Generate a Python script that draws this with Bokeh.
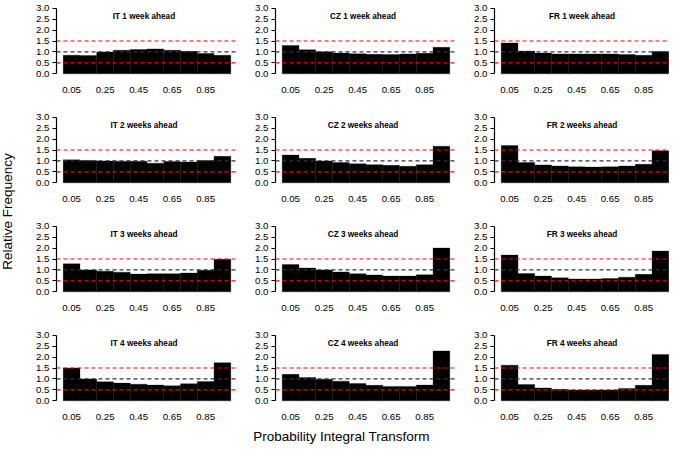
import math
from bokeh.plotting import figure
from bokeh.layouts import row, column
from bokeh.models import Span, Label, FixedTicker, Range1d, PrintfTickFormatter
from bokeh.embed import file_html
from bokeh.resources import INLINE
from bokeh.core.properties import value

# ---- data ----
bin_left = [0.0, 0.1, 0.2, 0.3, 0.4, 0.5, 0.6, 0.7, 0.8, 0.9]
bin_right = [0.1, 0.2, 0.3, 0.4, 0.5, 0.6, 0.7, 0.8, 0.9, 1.0]
x_ticks = [0.05, 0.25, 0.45, 0.65, 0.85]
y_ticks = [0.0, 0.5, 1.0, 1.5, 2.0, 2.5, 3.0]
countries = ["IT", "CZ", "FR"]
horizons = ["1 week ahead", "2 weeks ahead", "3 weeks ahead", "4 weeks ahead"]

it_1 = [0.85, 0.84, 1.00, 1.08, 1.11, 1.14, 1.08, 1.03, 0.93, 0.85]
cz_1 = [1.30, 1.10, 1.01, 0.95, 0.92, 0.89, 0.88, 0.91, 0.94, 1.21]
fr_1 = [1.41, 1.04, 0.95, 0.91, 0.91, 0.91, 0.91, 0.88, 0.85, 1.02]
it_2 = [1.05, 1.02, 1.00, 0.99, 0.99, 0.90, 0.97, 0.95, 1.02, 1.21]
cz_2 = [1.27, 1.12, 1.00, 0.93, 0.87, 0.83, 0.80, 0.76, 0.83, 1.67]
fr_2 = [1.70, 0.93, 0.82, 0.77, 0.73, 0.72, 0.73, 0.77, 0.85, 1.47]
it_3 = [1.28, 1.00, 0.94, 0.90, 0.81, 0.83, 0.83, 0.86, 0.99, 1.49]
cz_3 = [1.25, 1.09, 1.00, 0.91, 0.83, 0.77, 0.72, 0.72, 0.78, 2.00]
fr_3 = [1.68, 0.84, 0.72, 0.64, 0.59, 0.59, 0.61, 0.67, 0.80, 1.86]
it_4 = [1.50, 1.00, 0.87, 0.81, 0.76, 0.72, 0.69, 0.78, 0.88, 1.74]
cz_4 = [1.21, 1.07, 0.99, 0.90, 0.79, 0.71, 0.66, 0.66, 0.72, 2.28]
fr_4 = [1.63, 0.75, 0.59, 0.53, 0.50, 0.50, 0.50, 0.57, 0.71, 2.12]

series = [[it_1, cz_1, fr_1], [it_2, cz_2, fr_2], [it_3, cz_3, fr_3], [it_4, cz_4, fr_4]]

FONT = "Liberation Sans"
PX_PER_X = 167.6


def panel(title, heights, r, c):
    last = c == 2
    fw = 175 if last else 181
    rb = 0 if last else 2
    tb = 5 if r == 0 else 3
    bb = 23 if r == 3 else 35
    fh = 71
    p = figure(width=36 + fw + rb, height=tb + fh + bb,
               x_range=Range1d(-0.04, -0.04 + fw / PX_PER_X),
               y_range=Range1d(-0.12, 3.12),
               output_backend="svg", toolbar_location=None, tools="",
               min_border_left=36, min_border_right=rb,
               min_border_top=tb, min_border_bottom=bb)
    p.grid.visible = False
    p.outline_line_color = None
    p.background_fill_color = "white"
    p.border_fill_color = "white"

    p.quad(left=bin_left, right=bin_right, bottom=0, top=heights,
           fill_color="black", line_color="black", line_width=0.3)

    for loc, col in [(0.5, "red"), (1.0, "#333333"), (1.5, "red")]:
        p.add_layout(Span(location=loc, dimension="width", line_color=col,
                          line_dash="4 3", line_width=1.2))

    p.add_layout(Label(x=0.482, y=2.61, text=title, text_align="center",
                       text_baseline="middle", text_font_size="8.2px",
                       text_font_style="bold", text_font=FONT, text_color="black"))

    ya = p.yaxis[0]
    ya.ticker = FixedTicker(ticks=y_ticks)
    ya.formatter = PrintfTickFormatter(format="%.1f")
    ya.bounds = (0, 3)
    ya.major_tick_out = 4
    ya.major_tick_in = 0
    ya.minor_tick_line_color = None
    ya.axis_line_color = "black"
    ya.major_tick_line_color = "black"
    ya.axis_line_width = 1.2
    ya.major_tick_line_width = 1.2
    ya.major_label_standoff = 3
    ya.major_label_text_font = FONT
    ya.major_label_text_font_size = "9.7px"
    ya.major_label_text_color = "black"

    xa = p.xaxis[0]
    xa.ticker = FixedTicker(ticks=x_ticks)
    xa.formatter = PrintfTickFormatter(format="%.2f")
    xa.axis_line_color = None
    xa.major_tick_line_color = None
    xa.minor_tick_line_color = None
    xa.major_tick_out = 0
    xa.major_tick_in = 0
    xa.major_label_standoff = 10
    xa.major_label_text_font = FONT
    xa.major_label_text_font_size = "9.7px"
    xa.major_label_text_color = "black"
    return p


rows = []
for r in range(4):
    figs = []
    for c in range(3):
        figs.append(panel(countries[c] + " " + horizons[r], series[r][c], r, c))
    rows.append(row(*figs))
grid_h = 111 + 109 + 109 + 97

ylab = figure(width=20, height=grid_h, x_range=Range1d(0, 20), y_range=Range1d(0, grid_h),
              output_backend="svg", toolbar_location=None, tools="",
              x_axis_type=None, y_axis_type=None, min_border=0)
ylab.outline_line_color = None
ylab.grid.visible = False
ylab.text(x=[7], y=[grid_h - 211], text=["Relative Frequency"], angle=math.pi / 2,
          text_align="center", text_baseline="middle", text_font=value(FONT),
          text_font_size="13.5px", text_color="black")

xlab = figure(width=669, height=18, x_range=Range1d(0, 669), y_range=Range1d(0, 18),
              output_backend="svg", toolbar_location=None, tools="",
              x_axis_type=None, y_axis_type=None, min_border=0)
xlab.outline_line_color = None
xlab.grid.visible = False
xlab.text(x=[341], y=[8], text=["Probability Integral Transform"],
          text_align="center", text_baseline="middle", text_font=value(FONT),
          text_font_size="13.5px", text_color="black")

layout = column(row(ylab, column(*rows)), xlab)

open("out.html", "w").write(file_html(layout, INLINE))
